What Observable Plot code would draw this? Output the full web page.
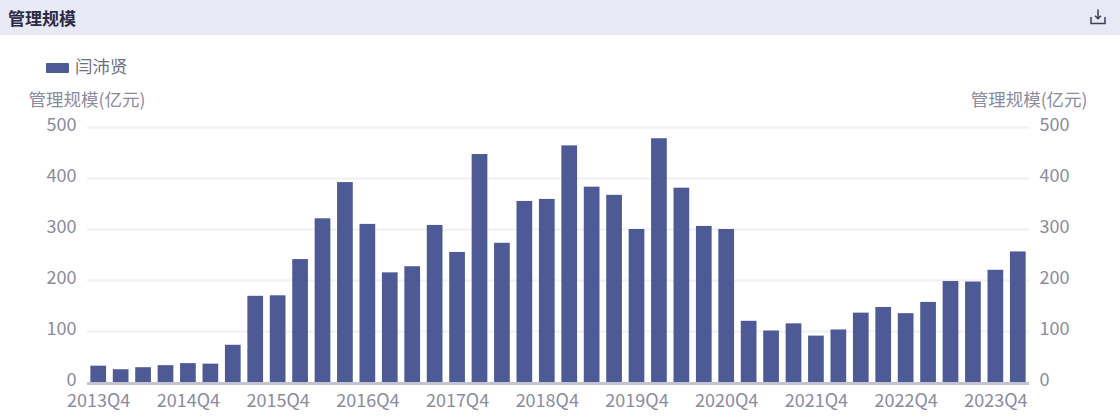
<!DOCTYPE html>
<html><head><meta charset="utf-8">
<script src="https://cdn.jsdelivr.net/npm/d3@7"></script>
<script src="https://cdn.jsdelivr.net/npm/@observablehq/plot@0.6"></script>
<style>
html,body{margin:0;padding:0;background:#fff;width:1120px;height:420px;overflow:hidden;font-family:"Noto Sans CJK SC","Noto Sans",sans-serif}
#head{height:35px;background:#e9e9f5;position:relative;box-sizing:border-box;padding-left:8px;line-height:35px;font-size:17px;font-weight:700;color:#2b2b45}
#head svg{position:absolute;left:1090px;top:9px}
#legend{height:35px;position:relative;color:#6f6f84;font-size:17.5px}
#legend i{position:absolute;left:46px;top:28px;width:23px;height:10px;background:#4e5a96;border-radius:1px}
#legend span{position:absolute;left:75px;top:19px;line-height:24px}
#chart svg{display:block}
</style></head>
<body>
<div id="head">管理规模
<svg width="16" height="16" viewBox="0 0 16 16" fill="none" stroke="#3d3d5c" stroke-width="1.5"><path d="M1 8v6.5h14V8M8 0.5v9M5 6.8l3 3 3-3"/></svg>
</div>
<div id="legend"><i></i><span>闫沛贤</span></div>
<div id="chart"></div>
<script>
const quarters = ["2013Q4","2014Q1","2014Q2","2014Q3","2014Q4","2015Q1","2015Q2","2015Q3","2015Q4","2016Q1","2016Q2","2016Q3","2016Q4","2017Q1","2017Q2","2017Q3","2017Q4","2018Q1","2018Q2","2018Q3","2018Q4","2019Q1","2019Q2","2019Q3","2019Q4","2020Q1","2020Q2","2020Q3","2020Q4","2021Q1","2021Q2","2021Q3","2021Q4","2022Q1","2022Q2","2022Q3","2022Q4","2023Q1","2023Q2","2023Q3","2023Q4","2024Q1"];
const aum = [32,25,29,33,37,36,73,169,170,241,321,392,310,215,227,308,255,447,273,355,359,464,383,367,300,478,381,306,300,120,101,115,91,103,136,147,135,157,198,197,220,256];
const xTicks = ["2013Q4","2014Q4","2015Q4","2016Q4","2017Q4","2018Q4","2019Q4","2020Q4","2021Q4","2022Q4","2023Q4"];
const yTicks = [0,100,200,300,400,500];
const gridTicks = [100,200,300,400,500];
const seriesName = "闫沛贤";
const axisTitle = "管理规模(亿元)";
const rows = quarters.map((q,i)=>({quarter:q,value:aum[i],manager:seriesName}));
const textColor = "#8b8b9f";
const plot = Plot.plot({
  width:1120, height:350,
  marginTop:57, marginBottom:38, marginLeft:87, marginRight:91,
  style:{fontFamily:'"Noto Sans CJK SC","Noto Sans",sans-serif',background:"#fff"},
  x:{type:"band",domain:quarters,paddingInner:0.3,paddingOuter:0.15,align:0.5,round:false},
  y:{domain:[0,500]},
  marks:[
    Plot.ruleY(gridTicks,{stroke:"#f0f0f6",strokeWidth:2}),
    Plot.barY(rows,{x:"quarter",y:"value",fill:"#4e5a96"}),
    Plot.ruleY([0],{stroke:"#c4c4d0",strokeWidth:3,dy:1}),
    Plot.axisX({ticks:xTicks,tickSize:0,tickPadding:12,label:null,fontSize:18,fill:textColor}),
    Plot.axisY({ticks:yTicks,anchor:"left",tickSize:0,tickPadding:11,label:null,fontSize:18,fill:textColor,dy:-2}),
    Plot.axisY({ticks:yTicks,anchor:"right",tickSize:0,tickPadding:10,label:null,fontSize:18,fill:textColor,dy:-2}),
    Plot.text([axisTitle],{frameAnchor:"top-left",textAnchor:"start",dx:-59,dy:-34,fontSize:17.5,fill:textColor}),
    Plot.text([axisTitle],{frameAnchor:"top-right",textAnchor:"end",dx:58,dy:-34,fontSize:17.5,fill:textColor})
  ]
});
document.getElementById("chart").appendChild(plot);
</script>
</body></html>
